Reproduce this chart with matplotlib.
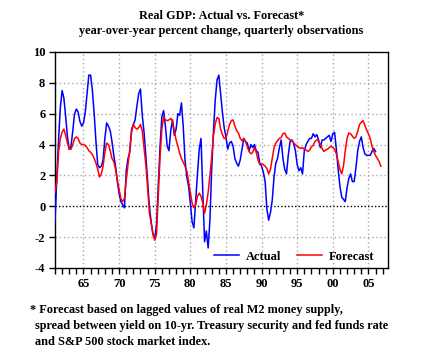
# Real GDP: actual vs. forecast (year-over-year % change, quarterly)
import numpy as np
import matplotlib.pyplot as plt
from matplotlib.ticker import MultipleLocator, FixedLocator

# data: quarterly values starting 1961Q1
start_year = 1961

actual = [
    -1.0, 1.8, 4.3, 6.4,    7.5, 7.0, 5.8, 4.5,    3.7, 3.9, 4.9, 6.0,    6.3, 6.1, 5.5, 5.2,    # 61-64
    5.4, 6.1, 7.3, 8.5,     8.5, 7.5, 6.0, 4.2,    2.7, 2.5, 2.6, 3.0,    4.4, 5.4, 5.2, 4.9,    # 65-68
    4.2, 3.3, 2.6, 1.6,     0.8, 0.3, 0.1, -0.1,   2.3, 3.1, 3.5, 5.0,    5.3, 5.6, 6.5, 7.3,    # 69-72
    7.6, 5.9, 4.8, 3.3,     1.7, 0.0, -1.0, -1.8,  -2.1, -1.2, 1.3, 3.9,  5.8, 6.2, 5.2, 3.9,    # 73-76
    3.6, 4.9, 5.6, 4.6,     5.0, 6.0, 5.9, 6.7,    5.2, 3.0, 1.9, 1.3,    0.2, -1.0, -1.4, 0.4,  # 77-80
    2.1, 3.7, 4.4, 0.9,     -2.3, -1.6, -2.7, -0.9, 2.4, 4.9, 6.9, 8.2,   8.5, 7.3, 6.1, 5.1,    # 81-84
    4.5, 3.7, 4.1, 4.2,     3.9, 3.1, 2.8, 2.6,    3.0, 3.7, 4.4, 4.2,    4.1, 3.6, 4.0, 3.8,    # 85-88
    4.0, 3.6, 3.5, 2.8,     2.6, 2.2, 1.6, -0.2,   -0.9, -0.4, 0.4, 1.9,  2.8, 3.1, 3.8, 4.3,    # 89-92
    3.1, 2.4, 2.1, 3.3,     4.2, 4.3, 4.1, 3.6,    2.7, 2.3, 2.5, 2.1,    3.6, 4.0, 4.2, 4.4,    # 93-96
    4.4, 4.7, 4.5, 4.65,    4.3, 3.8, 4.3, 4.3,    4.4, 4.5, 4.6, 4.2,    4.7, 4.8, 3.7, 2.4,    # 97-00
    1.3, 0.6, 0.45, 0.3,    1.2, 1.8, 2.1, 1.6,    1.6, 2.5, 3.6, 4.2,    4.5, 3.8, 3.4, 3.3,    # 01-04
    3.3, 3.3, 3.55, 3.75,   3.55,                                                              # 05-06
]

forecast = [
    0.9, 1.6, 3.5, 4.4,     4.8, 5.0, 4.6, 4.1,    3.7, 3.7, 4.0, 4.4,    4.5, 4.4, 4.1, 4.0,    # 61-64
    4.0, 3.95, 3.8, 3.6,    3.5, 3.35, 3.1, 2.8,   2.4, 1.9, 2.1, 2.6,    3.5, 4.1, 4.0, 3.6,    # 65-68
    3.1, 2.9, 2.4, 1.7,     1.1, 0.5, 0.3, 0.5,    1.7, 2.7, 3.7, 4.8,    5.3, 5.1, 5.0, 5.1,    # 69-72
    5.3, 4.9, 3.8, 2.7,     1.2, -0.4, -1.1, -1.8, -2.2, -1.8, 0.7, 3.2,  5.0, 5.8, 5.6, 5.55,   # 73-76
    5.6, 5.7, 5.5, 4.9,     4.3, 3.9, 3.45, 3.1,   2.85, 2.6, 2.3, 1.6,   0.9, 0.2, -0.1, 0.1,   # 77-80
    0.65, 0.85, 0.65, 0.2,  -0.45, 0.1, 0.9, 2.0,  3.2, 4.6, 5.35, 5.75,  5.7, 5.0, 4.65, 4.4,   # 81-84
    4.4, 4.85, 5.3, 5.55,   5.6, 5.2, 4.9, 4.75,   4.4, 4.25, 4.4, 4.2,   3.85, 3.55, 3.4, 3.5,  # 85-88
    3.8, 3.5, 3.0, 2.7,     2.75, 2.7, 2.6, 2.45,  2.1, 2.4, 3.1, 3.8,    4.1, 4.25, 4.4, 4.45,  # 89-92
    4.7, 4.75, 4.5, 4.4,    4.3, 4.25, 4.1, 4.0,   3.9, 3.8, 3.75, 3.8,   3.7, 3.65, 3.55, 3.65, # 93-96
    3.85, 3.95, 4.2, 4.3,   4.25, 4.0, 3.75, 3.55, 3.65, 3.7, 3.8, 3.9,   3.8, 3.7, 3.4, 2.9,    # 97-00
    2.4, 2.1, 2.6, 3.6,     4.4, 4.75, 4.7, 4.55,  4.4, 4.5, 4.85, 5.3,   5.45, 5.55, 5.25, 4.95, # 01-04
    4.7, 4.4, 3.9, 3.55,    3.3, 3.1, 2.9, 2.6,                                                # 05-06
]

x_tick_years = [1965, 1970, 1975, 1980, 1985, 1990, 1995, 2000, 2005]
x_tick_labels = ['65', '70', '75', '80', '85', '90', '95', '00', '05']
y_ticks = [-4, -2, 0, 2, 4, 6, 8, 10]

t_act = start_year + np.arange(len(actual)) / 4
t_fc = start_year + np.arange(len(forecast)) / 4

plt.rcParams['font.family'] = ['Liberation Serif', 'DejaVu Serif']
plt.rcParams['font.weight'] = 'bold'

fig = plt.figure(figsize=(4.43, 3.57), dpi=100)
ax = fig.add_axes([55/443, 89/357, 333/443, 216/357])

# grid + zero line
for yv in [-2, 2, 4, 6, 8]:
    ax.axhline(yv, color='#a8a8a8', lw=1.0, ls=(0, (1, 2)), zorder=0)
for xv in x_tick_years:
    ax.axvline(xv, color='#a8a8a8', lw=1.0, ls=(0, (1, 2)), zorder=0)
ax.axhline(0, color='black', lw=1.0, ls=(0, (1, 1.5)), zorder=1)

ax.plot(t_act, actual, color='#0000ff', lw=1.1, label='Actual', zorder=3)
ax.plot(t_fc, forecast, color='#ff0000', lw=1.1, label='Forecast', zorder=4)

ax.set_xlim(1961, 2007.75)
ax.set_ylim(-4, 10)
ax.set_yticks(y_ticks)
ax.set_yticklabels([str(v) for v in y_ticks])
ax.xaxis.set_major_locator(FixedLocator(x_tick_years))
ax.set_xticklabels(x_tick_labels)
ax.xaxis.set_minor_locator(MultipleLocator(1))
ax.tick_params(axis='both', which='both', direction='out', length=4, width=1,
               labelsize=9, pad=3)
ax.tick_params(axis='x', which='minor', length=4)
for s in ax.spines.values():
    s.set_linewidth(1.0)

fig.legend(loc='center', bbox_to_anchor=(294/443, 1 - 256.5/357), ncol=2,
           frameon=False, fontsize=9, handlelength=2.0, handletextpad=0.5,
           columnspacing=1.3, borderpad=0)

fig.text(0.5, 1 - 19/357, 'Real GDP: Actual vs. Forecast*', ha='center',
         va='baseline', fontsize=8.8, fontweight='bold')
fig.text(0.5, 1 - 34/357, 'year-over-year percent change, quarterly observations',
         ha='center', va='baseline', fontsize=8.8, fontweight='bold')

fig.text(30/443, 1 - 313/357, '* Forecast based on lagged values of real M2 money supply,',
         ha='left', va='baseline', fontsize=8.8, fontweight='bold')
fig.text(35/443, 1 - 329/357, 'spread between yield on 10-yr. Treasury security and fed funds rate',
         ha='left', va='baseline', fontsize=8.8, fontweight='bold')
fig.text(35/443, 1 - 345/357, 'and S&P 500 stock market index.',
         ha='left', va='baseline', fontsize=8.8, fontweight='bold')

fig.savefig('out.png', dpi=100)
